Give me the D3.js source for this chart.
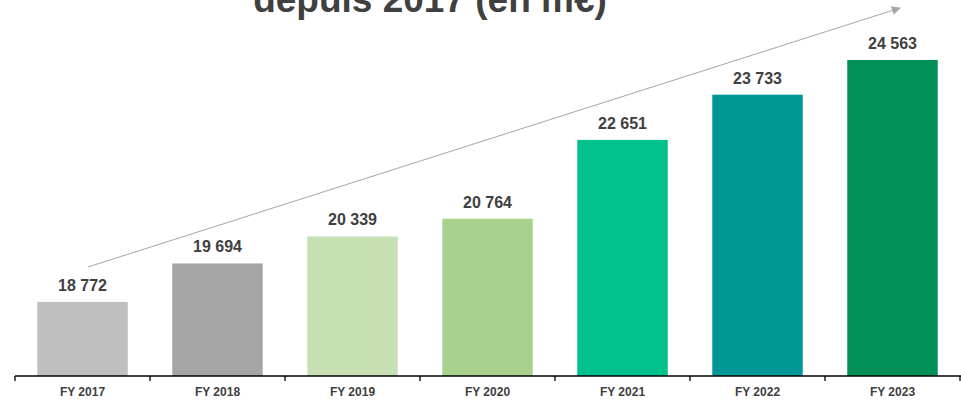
<!DOCTYPE html>
<html>
<head>
<meta charset="utf-8">
<script src="https://cdn.jsdelivr.net/npm/d3@7"></script>
<style>
    body { margin: 0; background: #fff; }
    svg { display: block; font-family: Arial, "Liberation Sans", sans-serif; }
</style>
</head>
<body>
<svg id="chart" width="961" height="404"></svg>
<script>
// Chart data
var years = ["FY 2017", "FY 2018", "FY 2019", "FY 2020", "FY 2021", "FY 2022", "FY 2023"]
var revenue = [18772, 19694, 20339, 20764, 22651, 23733, 24563]
var colors = ["#bfbfbf", "#a5a5a5", "#c6e0b4", "#a9d18e", "#00c08b", "#009797", "#008f56"]
var title = "depuis 2017 (en m€)"

var svg = d3.select("#chart")
var textColor = "#404040"

// Scales
var x = d3.scaleBand().domain(years).range([15, 960]).paddingInner(0.33).paddingOuter(0.165)
var y = d3.scaleLinear().domain([17000, 24563]).range([376, 60])

// Title (cut off at the top, like the slide)
svg.append("text")
    .attr("x", 430)
    .attr("y", 12)
    .attr("text-anchor", "middle")
    .attr("font-size", "37px")
    .attr("font-weight", "bold")
    .attr("fill", textColor)
    .text(title)

// Trend arrow
svg.append("defs").append("marker")
    .attr("id", "arrow")
    .attr("viewBox", "0 0 10 10")
    .attr("refX", 9)
    .attr("refY", 5)
    .attr("markerWidth", 11)
    .attr("markerHeight", 9)
    .attr("markerUnits", "userSpaceOnUse")
    .attr("orient", "auto")
    .append("path")
    .attr("d", "M0,0 L10,5 L0,10 Z")
    .attr("fill", "#a6a6a6")

svg.append("line")
    .attr("x1", 88).attr("y1", 267)
    .attr("x2", 900).attr("y2", 8)
    .attr("stroke", "#a6a6a6")
    .attr("stroke-width", 1)
    .attr("marker-end", "url(#arrow)")

// Bars
svg.selectAll("rect.bar")
    .data(revenue)
    .enter().append("rect")
    .attr("class", "bar")
    .attr("x", function(d, i) { return x(years[i]) })
    .attr("y", function(d) { return y(d) })
    .attr("width", x.bandwidth())
    .attr("height", function(d) { return y.range()[0] - y(d) })
    .attr("fill", function(d, i) { return colors[i] })

// Value labels
var fmt = function(v) { return d3.format(",")(v).replace(",", " ") }
svg.selectAll("text.val")
    .data(revenue)
    .enter().append("text")
    .attr("class", "val")
    .attr("x", function(d, i) { return x(years[i]) + x.bandwidth() / 2 })
    .attr("y", function(d) { return y(d) - 11 })
    .attr("text-anchor", "middle")
    .attr("font-size", "16px")
    .attr("font-weight", "bold")
    .attr("fill", textColor)
    .text(fmt)

// Axis: line plus ticks at the category boundaries
var axis = svg.append("g").attr("transform", "translate(0,376)")
axis.append("line")
    .attr("x1", 15).attr("x2", 961)
    .attr("stroke", "#000").attr("stroke-width", 1.3)
var step = x.step()
var bounds = d3.range(years.length + 1).map(function(i) { return 15 + i * step })
axis.selectAll("line.tick")
    .data(bounds)
    .enter().append("line")
    .attr("class", "tick")
    .attr("x1", function(d) { return d }).attr("x2", function(d) { return d })
    .attr("y1", 0).attr("y2", 5)
    .attr("stroke", "#000").attr("stroke-width", 1.3)
axis.selectAll("text")
    .data(years)
    .enter().append("text")
    .attr("x", function(d) { return x(d) + x.bandwidth() / 2 })
    .attr("y", 20)
    .attr("text-anchor", "middle")
    .attr("font-size", "12px")
    .attr("font-weight", "bold")
    .attr("fill", textColor)
    .text(function(d) { return d })
</script>
</body>
</html>
